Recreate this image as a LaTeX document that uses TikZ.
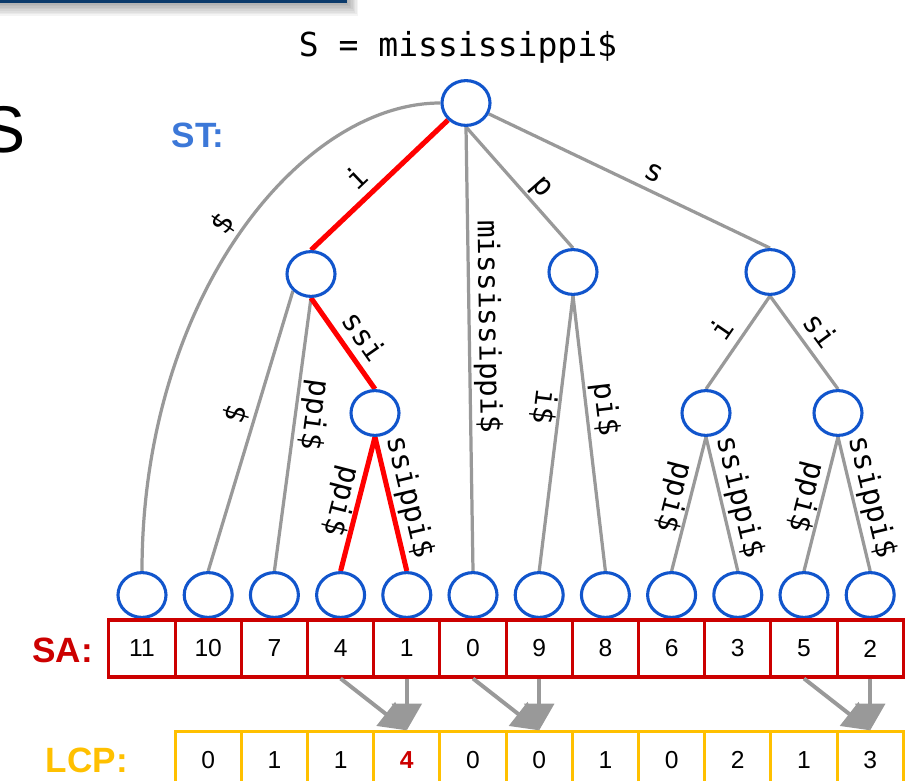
\documentclass[tikz,border=0pt]{standalone}
\usepackage{fontspec}
\setmainfont{Liberation Sans}
\newfontfamily\codefont{DejaVu Sans Mono}
\usetikzlibrary{arrows.meta,shapes.geometric,backgrounds}

\definecolor{treeblue}{HTML}{1155CC}
\definecolor{stblue}{HTML}{3C78D8}
\definecolor{edgegray}{HTML}{999999}
\definecolor{pathred}{HTML}{FF0000}
\definecolor{sared}{HTML}{CC0000}
\definecolor{lcpgold}{HTML}{FFC000}
\definecolor{barblue}{HTML}{0B3A6B}

\tikzset{
  stnode/.style={ellipse, draw=treeblue, line width=2.2pt, fill=white,
    minimum width=1.2cm, minimum height=1.12cm, inner sep=0pt},
  treeedge/.style={draw=edgegray, line width=2.3pt},
  pathedge/.style={draw=pathred, line width=3.6pt},
  lbl/.style={font=\codefont\fontsize{21}{25}\selectfont, sloped, inner sep=2pt,
    text height=14.5pt, text depth=4pt},
  downlbl/.style={lbl, allow upside down},
  sacell/.style={rectangle, draw=sared, line width=2.2pt, minimum width=1.655cm,
    minimum height=1.425cm, inner sep=0pt, font=\fontsize{17.5}{20}\selectfont},
  lcpcell/.style={sacell, draw=lcpgold},
  lcparrow/.style={draw=edgegray, line width=2.8pt, -{Triangle[length=19pt,width=21pt]}},
  rowlabel/.style={font=\bfseries\fontsize{25}{30}\selectfont, inner sep=0pt},
}

\begin{document}
\begin{tikzpicture}
  \useasboundingbox (0,0) rectangle (22.65,19.5);

  % slide header bar with its shadow
  \foreach \k in {1,...,8}
    \fill[black, opacity=0.045] (-0.5,{19.425-0.04*\k}) rectangle ({8.675+0.035*\k},19.7);
  \fill[barblue] (-0.5,19.425) rectangle (8.675,20);
  \node[font=\fontsize{47}{50}\selectfont, anchor=base east, inner sep=0pt] (bigS) at (0.65,15.675) {S};

  \node[font=\codefont\fontsize{23.5}{28}\selectfont] (title) at (11.45,18.325) {S = mississippi\$};
  \node[rowlabel, text=stblue] (stlabel) at (4.95,16.125) {ST:};

  % internal nodes
  \node[stnode] (root) at (11.65,16.925) {};
  \node[stnode] (ni) at (7.775,12.65) {};
  \node[stnode] (nssi) at (9.375,9.175) {};
  \node[stnode] (np) at (14.325,12.7) {};
  \node[stnode] (ns) at (19.25,12.7) {};
  \node[stnode] (nsii) at (17.65,9.175) {};
  \node[stnode] (nsi) at (20.95,9.175) {};

  % leaves and suffix array
  \foreach \v [count=\i from 0] in {11,10,7,4,1,0,9,8,6,3,5,2} {
    \node[stnode] (l\i) at ({3.55+1.655*\i},4.625) {};
    \node[sacell] (sa\i) at ({3.55+1.655*\i},3.2875) {\v};
  }
  \foreach \v [count=\i from 0] in {0,1,1,{\color{sared}\bfseries 4},0,0,1,0,2,1,3}
    \node[lcpcell] (lcp\i) at ({3.55+1.655*(\i+1)},0.49) {\v};

  \node[rowlabel, text=sared, anchor=east] (salabel) at (2.33,3.25) {SA:};
  \node[rowlabel, text=lcpgold, anchor=east] (lcplabel) at (3.2,0.5) {LCP:};

  \begin{scope}[on background layer]
    \draw[treeedge] (root.west) .. controls +(-3.525,0) and +(0,6.8) .. (l0.north)
      node[lbl, pos=0.5, above] {\$};
    \draw[pathedge] (root) -- (ni.north) node[lbl, pos=0.56, above] {i};
    \draw[treeedge] (root.south) -- (l5.north) node[lbl, pos=0.45, above] {mississippi\$};
    \draw[treeedge] (root.south) -- (np.north) node[lbl, pos=0.59, above] {p};
    \draw[treeedge] (root) -- (ns.north) node[lbl, pos=0.56, above] {s};

    \draw[treeedge] (ni.south west) -- (l1.north) node[lbl, pos=0.46, above] {\$};
    \draw[treeedge] (ni.south) -- (l2.north) node[downlbl, pos=0.42, above] {ppi\$};
    \draw[pathedge] (ni.south) -- (nssi.north) node[lbl, pos=0.56, above] {ssi};
    \draw[pathedge] (nssi.south) -- (l3.north) node[downlbl, pos=0.51, below] {ppi\$};
    \draw[pathedge] (nssi.south) -- (l4.north) node[lbl, pos=0.48, above] {ssippi\$};

    \draw[treeedge] (np.south) -- (l6.north) node[downlbl, pos=0.41, below] {i\$};
    \draw[treeedge] (np.south) -- (l7.north) node[lbl, pos=0.42, above] {pi\$};

    \draw[treeedge] (ns.south) -- (nsii.north) node[lbl, pos=0.48, above] {i};
    \draw[treeedge] (ns.south) -- (nsi.north) node[lbl, pos=0.5, above] {si};
    \draw[treeedge] (nsii.south) -- (l8.north) node[downlbl, pos=0.48, below] {ppi\$};
    \draw[treeedge] (nsii.south) -- (l9.north) node[lbl, pos=0.48, above] {ssippi\$};
    \draw[treeedge] (nsi.south) -- (l10.north) node[downlbl, pos=0.48, below] {ppi\$};
    \draw[treeedge] (nsi.south) -- (l11.north) node[lbl, pos=0.48, above] {ssippi\$};
  \end{scope}

  % neighbouring suffixes feeding an LCP entry
  \draw[lcparrow] (sa3.south) -- (lcp3.north);
  \draw[lcparrow] (sa4.south) -- (lcp3.north);
  \draw[lcparrow] (sa5.south) -- (lcp5.north);
  \draw[lcparrow] (sa6.south) -- (lcp5.north);
  \draw[lcparrow] (sa10.south) -- (lcp10.north);
  \draw[lcparrow] (sa11.south) -- (lcp10.north);
\end{tikzpicture}
\end{document}
